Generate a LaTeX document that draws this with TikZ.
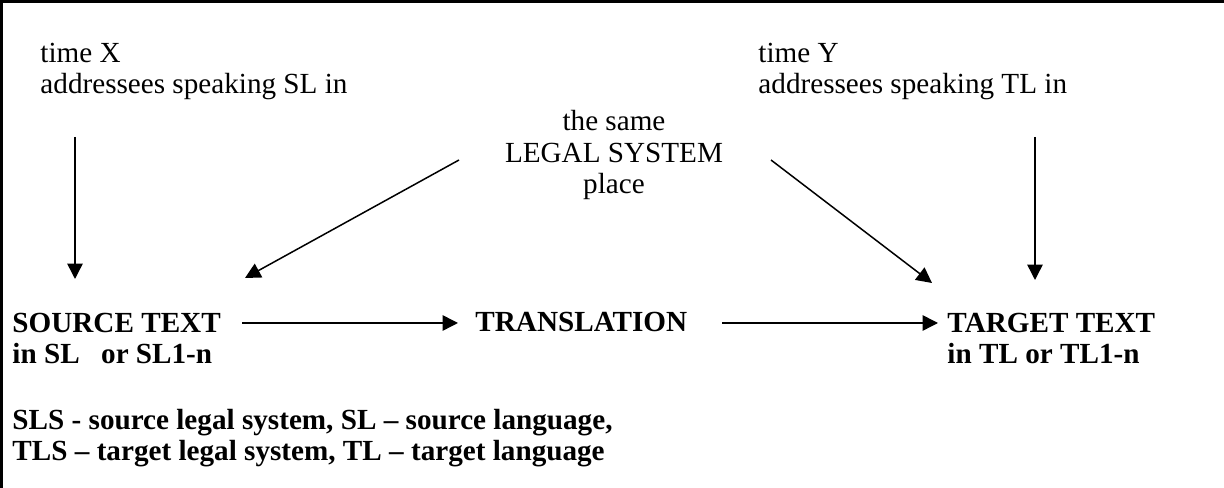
\documentclass[tikz,border=0pt]{standalone}
\usepackage{fontspec}
\setmainfont{Liberation Serif}
\usetikzlibrary{arrows.meta}
\usetikzlibrary{positioning}

\tikzset{
  plain/.style={inner sep=0pt, anchor=base west, align=left,
    font=\fontsize{12.25}{13.4}\selectfont},
  heavy/.style={plain, font=\fontsize{12.25}{13.4}\selectfont\bfseries},
  link/.style={line width=0.63pt, -{Triangle[length=6.5pt,width=6.5pt]}},
}

\begin{document}
\begin{tikzpicture}[x=0.42pt, y=-0.42pt]
  \useasboundingbox (0,0) rectangle (1224,488);
  % frame (only top and left edges fall inside the page)
  \draw[line width=1.05pt] (1224,1.3) -- (1.3,1.3) -- (1.3,488);

  % Texts (base anchor = baseline of the last line)
  \node[plain] (timeX) at (40,94) {time X\\addressees speaking SL in};   % source side addressees
  \node[plain] (timeY) at (758,94) {time Y\\addressees speaking TL in};  % target side addressees
  \node[plain, anchor=base, align=center] (legal) at (614,194)
       {the same\\LEGAL SYSTEM\\place};                                 % shared legal system
  \node[heavy] (source) at (12,364) {SOURCE TEXT\\in SL\hspace{9pt}or SL1-n};
  \node[heavy] (transl) at (475,332) {TRANSLATION};
  \node[heavy] (target) at (947,364) {TARGET TEXT\\in TL or TL1-n};
  \node[heavy] (legend) at (12,461)
       {SLS - source legal system, SL -- source language,\\TLS -- target legal system, TL -- target language};

  % Arrow ends
  \coordinate (xTop) at (75,137);    \coordinate (xEnd) at (75,279);
  \coordinate (yTop) at (1035,137);  \coordinate (yEnd) at (1035,280);
  \coordinate (lsL) at (459,160);    \coordinate (lsLEnd) at (245,278);
  \coordinate (lsR) at (771,160);    \coordinate (lsREnd) at (932,283);
  \coordinate (srcOut) at (242,323); \coordinate (trIn) at (458,323);
  \coordinate (trOut) at (722,323);  \coordinate (tgIn) at (938,323);

  % Arrows
  \draw[link] (xTop) -- (xEnd);
  \draw[link] (yTop) -- (yEnd);
  \draw[link] (lsL) -- (lsLEnd);
  \draw[link] (lsR) -- (lsREnd);
  \draw[link] (srcOut) -- (trIn);
  \draw[link] (trOut) -- (tgIn);
\end{tikzpicture}
\end{document}
